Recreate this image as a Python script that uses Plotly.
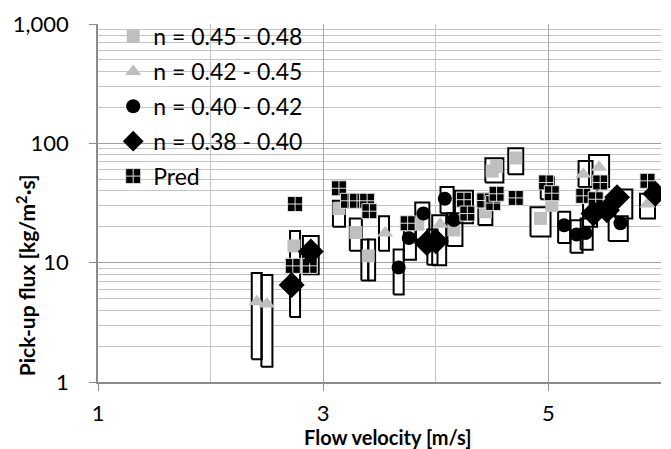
import plotly.graph_objects as go

# ---- data ----
sq_x = [2.74, 3.14, 3.29, 3.40, 3.84, 4.16, 4.44, 4.50, 4.54, 4.71, 4.93, 5.03]
sq_y = [13.8, 28.4, 17.9, 11.4, 21.0, 18.8, 26.7, 58.6, 64.0, 75.4, 23.5, 30.2]

tri_x = [2.41, 2.50, 3.55, 4.04, 5.31, 5.45, 5.88]
tri_y = [4.7, 4.5, 17.7, 21.0, 55.0, 63.0, 31.0]

cir_x = [3.67, 3.76, 3.89, 4.08, 4.16, 5.14, 5.25, 5.33, 5.64]
cir_y = [9.1, 16.1, 25.8, 34.3, 22.8, 20.6, 17.2, 17.7, 21.4]

dia_x = [2.72, 2.89, 3.92, 4.00, 5.40, 5.52, 5.61, 5.95]
dia_y = [6.5, 12.4, 14.6, 15.1, 25.8, 27.5, 35.4, 37.8]

pred_x = [2.75, 2.73, 2.88, 3.14, 3.22, 3.30, 3.39, 3.41, 3.75, 4.25, 4.28,
          4.43, 4.51, 4.54, 4.71, 4.98, 5.03, 5.31, 5.42, 5.46, 5.88]
pred_y = [31.0, 9.4, 9.4, 42.0, 33.0, 33.0, 33.0, 27.0, 21.4, 33.7, 25.8,
          33.2, 31.6, 37.8, 34.9, 47.0, 38.2, 36.3, 34.0, 47.0, 48.5]

# measured ranges (boxes): centre, low, high, width
box_x = [2.41, 2.50, 2.75, 2.89, 3.14, 3.29, 3.37, 3.43, 3.54, 3.67, 3.77,
         3.88, 3.97, 4.03, 4.10, 4.17, 4.25, 4.44, 4.52, 4.71, 4.93, 4.99,
         5.14, 5.25, 5.34, 5.33, 5.45, 5.37, 5.67, 5.62, 5.88]
box_lo = [1.55, 1.34, 3.5, 8.0, 20.0, 12.6, 7.1, 7.1, 12.6, 5.4, 10.6,
          15.6, 9.6, 9.5, 26.0, 13.8, 21.4, 20.7, 47.0, 55.0, 16.6, 34.0,
          14.6, 12.1, 12.8, 43.0, 43.0, 20.0, 23.5, 15.2, 23.5]
box_hi = [8.2, 7.9, 18.4, 16.7, 33.0, 23.5, 15.6, 15.6, 24.5, 12.9, 21.4,
          32.0, 19.0, 25.0, 43.0, 26.0, 40.0, 37.8, 75.0, 91.0, 29.2, 52.0,
          26.7, 22.7, 23.5, 71.0, 80.0, 43.0, 41.0, 24.5, 37.8]
box_w = [0.089, 0.098, 0.089, 0.14, 0.107, 0.107, 0.062, 0.062, 0.089, 0.089, 0.107,
         0.125, 0.09, 0.124, 0.116, 0.133, 0.16, 0.124, 0.16, 0.133, 0.178, 0.116,
         0.107, 0.107, 0.107, 0.124, 0.178, 0.124, 0.15, 0.17, 0.133]

x_ticks = [1, 3, 5]
x_ticktext = ["1", "3", "5"]
y_ticks = [1, 10, 100, 1000]
y_ticktext = ["1", "10", "100", "1,000"]

FONT = "Lato, 'Open Sans', sans-serif"

# ---- boxes built from the range arrays ----
bxs, bys = [], []
for x, lo, hi, w in zip(box_x, box_lo, box_hi, box_w):
    bxs += [x - w / 2, x + w / 2, x + w / 2, x - w / 2, x - w / 2, None]
    bys += [lo, lo, hi, hi, lo, None]

fig = go.Figure()
fig.add_trace(go.Scatter(x=bxs, y=bys, mode="lines", fill="toself",
                         fillcolor="white", line=dict(color="black", width=2),
                         showlegend=False, hoverinfo="skip"))

fig.add_trace(go.Scatter(x=sq_x, y=sq_y, mode="markers", name="n = 0.45 - 0.48",
                         legendrank=1, legendgroup="a",
                         marker=dict(symbol="square", size=13, color="#BFBFBF")))
fig.add_trace(go.Scatter(x=tri_x, y=tri_y, mode="markers", name="n = 0.42 - 0.45",
                         legendrank=2, legendgroup="b",
                         marker=dict(symbol="triangle-up", size=14, color="#BFBFBF")))
fig.add_trace(go.Scatter(x=cir_x, y=cir_y, mode="markers", name="n = 0.40 - 0.42",
                         legendrank=3, legendgroup="c",
                         marker=dict(symbol="circle", size=14, color="black")))
fig.add_trace(go.Scatter(x=pred_x, y=pred_y, mode="markers", name="Pred",
                         legendrank=5, legendgroup="e",
                         marker=dict(symbol="square-cross", size=15, color="black",
                                     line=dict(color="#E0E0E0", width=1))))
fig.add_trace(go.Scatter(x=dia_x, y=dia_y, mode="markers", name="n = 0.38 - 0.40",
                         legendrank=4, legendgroup="d",
                         marker=dict(symbol="diamond", size=20, color="black")))

fig.update_layout(
    width=671, height=449,
    margin=dict(l=98, r=10, t=16, b=67),
    paper_bgcolor="white", plot_bgcolor="white",
    font=dict(family=FONT, size=22, color="black"),
    showlegend=True,
    legend=dict(x=0.027, y=1.025, xanchor="left", yanchor="top",
                bgcolor="rgba(0,0,0,0)", font=dict(size=23),
                tracegroupgap=2, traceorder="grouped"),
    xaxis=dict(range=[1, 6], tickvals=x_ticks, ticktext=x_ticktext,
               showgrid=True, gridcolor="#A6A6A6", gridwidth=1,
               minor=dict(tickvals=[2, 4, 6], showgrid=True, gridcolor="#C4C4C4", gridwidth=1),
               showline=True, linecolor="#8C8C8C", linewidth=1.5,
               ticks="outside", ticklen=7, tickcolor="#8C8C8C",
               ticklabelstandoff=4, zeroline=False),
    yaxis=dict(type="log", range=[0, 3], tickvals=y_ticks, ticktext=y_ticktext,
               showgrid=True, gridcolor="#A0A0A0", gridwidth=1.2,
               minor=dict(tickvals=[m * d for d in (1, 10, 100) for m in range(2, 10)],
                          showgrid=True, gridcolor="#C4C4C4", gridwidth=1),
               showline=True, linecolor="#8C8C8C", linewidth=1.5,
               ticks="outside", ticklen=7, tickcolor="#8C8C8C",
               ticklabelstandoff=16, zeroline=False),
    annotations=[
        dict(text="<b>Flow velocity [m/s]</b>", xref="paper", yref="paper",
             x=0.515, y=-0.155, xanchor="center", yanchor="middle",
             showarrow=False, font=dict(size=20)),
        dict(text="<b>Pick-up flux [kg/m<sup>2</sup>·s]</b>", xref="paper", yref="paper",
             x=-0.128, y=0.298, xanchor="center", yanchor="middle", textangle=-90,
             showarrow=False, font=dict(size=21)),
    ],
)

fig.write_html("out.html")
